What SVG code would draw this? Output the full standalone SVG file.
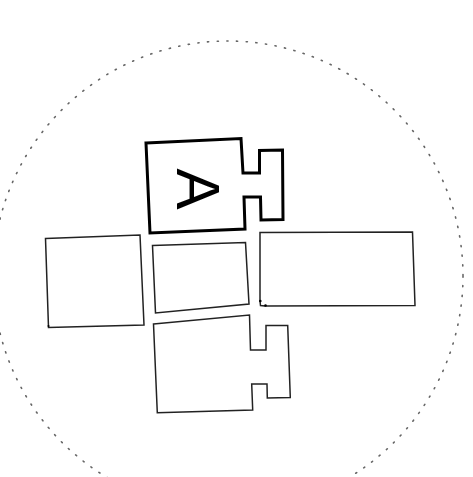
<svg xmlns="http://www.w3.org/2000/svg" width="473" height="477" viewBox="0 0 473 477">
<style>
.thin{fill:none;stroke:#222;stroke-width:1.5;stroke-linejoin:miter}
.thick{fill:none;stroke:#000;stroke-width:3;stroke-linejoin:miter}
.ring{fill:none;stroke:#666;stroke-width:1.6;stroke-dasharray:1.2 8.5;stroke-linecap:round}
.lbl{font-family:"Liberation Sans",Arial,sans-serif;font-size:62px;fill:#000}
</style>
<rect width="473" height="477" fill="#fff"/>
<circle class="ring" cx="228" cy="276" r="235"/>
<g id="nodeA">
<path class="thick" d="M146,143 L241,138.5 L243,173 L259.5,173 L259.5,150.5 L282.5,150 L283,219.5 L261,220 L260.5,197 L244,197 L245,229 L150,233 Z"/>
<text class="lbl" text-anchor="middle" transform="translate(177,189) rotate(90)">A</text>
</g>
<g id="nodeLeft">
<path class="thin" d="M45.5,238.5 L140,235 L144,325 L48.5,327.5 Z"/>
<circle cx="48.5" cy="326" r="1" fill="#000"/>
</g>
<g id="nodeMid">
<path class="thin" d="M152.5,245.5 L245.5,242.5 L249,304 L155.5,313 Z"/>
</g>
<g id="nodeRight">
<path class="thin" d="M265,306 L415,305.5 L412.5,232 L260,232.5 L260,301 L260.5,305.5 Z"/>
<circle cx="260.3" cy="301" r="1.3" fill="#000"/>
<circle cx="265.5" cy="305.5" r="1.3" fill="#000"/>
</g>
<g id="nodeBottom">
<path class="thin" d="M153.5,324 L249.5,315 L250.5,350 L266,350 L266,325.5 L287.7,325.5 L290.3,397.5 L267.3,398 L267,384 L251.7,384 L252.7,410 L157.3,412.7 Z"/>
</g>
<g id="connectors"></g>
</svg>
